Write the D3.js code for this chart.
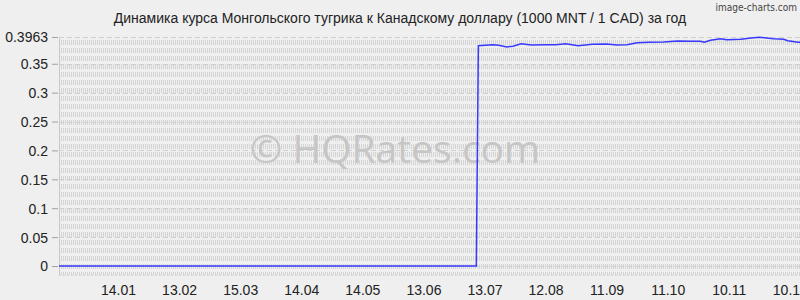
<!DOCTYPE html>
<html><head><meta charset="utf-8">
<script src="https://cdn.jsdelivr.net/npm/d3@7"></script>
<style>
html,body{margin:0;padding:0;background:#efefef;}
svg{display:block;}
text{font-family:"Liberation Sans",Arial,sans-serif;}
</style></head>
<body>
<svg id="c" width="800" height="300"></svg>
<script>
const title = "Динамика курса Монгольского тугрика к Канадскому доллару (1000 MNT / 1 CAD) за год";
const dates = ["2014-12-16","2015-07-09","2015-07-10","2015-07-17","2015-07-20","2015-07-24","2015-07-27","2015-07-31","2015-08-05","2015-08-12","2015-08-17","2015-08-22","2015-08-28","2015-09-04","2015-09-11","2015-09-16","2015-09-21","2015-09-26","2015-10-02","2015-10-09","2015-10-16","2015-10-22","2015-10-27","2015-10-29","2015-11-01","2015-11-06","2015-11-09","2015-11-16","2015-11-21","2015-11-25","2015-12-02","2015-12-07","2015-12-09","2015-12-14","2015-12-15"];
const values = [0,0,0.3813,0.3830,0.3820,0.3790,0.3803,0.3847,0.3825,0.3830,0.3830,0.3847,0.3813,0.3837,0.3842,0.3825,0.3830,0.3865,0.3872,0.3877,0.3894,0.3889,0.3889,0.3872,0.3906,0.3933,0.3916,0.3923,0.3946,0.3958,0.3933,0.3923,0.3899,0.3872,0.3870];
const yTicks = [0,0.05,0.1,0.15,0.2,0.25,0.3,0.35,0.3963];
const xTickDates = ["2015-01-14","2015-02-13","2015-03-15","2015-04-14","2015-05-14","2015-06-13","2015-07-13","2015-08-12","2015-09-11","2015-10-11","2015-11-10","2015-12-10"];
const xTickLabels = ["14.01","13.02","15.03","14.04","14.05","13.06","13.07","12.08","11.09","11.10","10.11","10.12"];

const parse = d3.utcParse("%Y-%m-%d");
const data = dates.map((d,i)=>({d:parse(d),v:values[i]}));
const svg = d3.select("#c");
const L=59, R=800, T=37, B=266, BG=275;

const x = d3.scaleUtc().domain([parse("2014-12-16"), parse("2015-12-15")]).range([L, R]);
const y = d3.scaleLinear().domain([0, 0.3963]).range([B, T]);

// background pattern: vertical dashed lines
const g = svg.append("g");
g.selectAll("line.v").data(d3.range(L+2, R, 2)).join("line")
  .attr("x1", d=>d+0.5).attr("x2", d=>d+0.5)
  .attr("y1", T+3).attr("y2", BG)
  .attr("stroke", "#d4d4d4").attr("stroke-width", 1)
  .attr("stroke-dasharray", "5,3");
// horizontal grid
g.selectAll("line.h").data(yTicks).join("line")
  .attr("x1", L).attr("x2", R)
  .attr("y1", d=>Math.round(y(d))+0.5).attr("y2", d=>Math.round(y(d))+0.5)
  .attr("stroke", "#d0d0d0").attr("stroke-dasharray", "5,3");
g.append("line").attr("x1",L).attr("x2",R).attr("y1",BG+0.5).attr("y2",BG+0.5)
  .attr("stroke","#d0d0d0").attr("stroke-dasharray","2,2");
g.append("line").attr("x1",L+0.5).attr("x2",L+0.5).attr("y1",T).attr("y2",BG)
  .attr("stroke","#c8c8c8");

// watermark
svg.append("text").attr("x", 395).attr("y", 163).attr("text-anchor","middle")
  .style("font-family","'Open Sans','Noto Sans',sans-serif").style("font-size","39px")
  .attr("fill","#c6c6c6").text("© HQRates.com");

// y axis
const ya = d3.axisLeft(y).tickValues(yTicks).tickSize(6).tickPadding(4)
  .tickFormat(d=> d===0.3963 ? "0.3963" : d3.format("~g")(d));
const yg = svg.append("g").attr("transform",`translate(${L-1},0)`).call(ya);
yg.select(".domain").remove();
yg.selectAll(".tick line").attr("stroke","#a0a0a0");
yg.selectAll("text").style("font-size","14px").attr("fill","#222").attr("dy","0.35em");

// x axis
const xa = d3.axisBottom(x).tickValues(xTickDates.map(parse)).tickSize(0).tickPadding(10)
  .tickFormat((d,i)=>xTickLabels[i]);
const xg = svg.append("g").attr("transform",`translate(0,${BG})`).call(xa);
xg.select(".domain").remove();
xg.selectAll("text").style("font-size","14px").attr("fill","#222");

// line
svg.append("path").datum(data)
  .attr("d", d3.line().x(d=>x(d.d)).y(d=>y(d.v)))
  .attr("fill","none").attr("stroke","#3838ff").attr("stroke-width",1.5);

// title
svg.append("text").attr("x",400).attr("y",23).attr("text-anchor","middle")
  .style("font-size","14px").attr("fill","#222").text(title);
svg.append("text").attr("x",797).attr("y",11).attr("text-anchor","end")
  .style("font-family","'DejaVu Sans Condensed','Liberation Sans Narrow',sans-serif")
  .style("font-size","10px").attr("fill","#444").text("image-charts.com");
</script>
</body></html>
